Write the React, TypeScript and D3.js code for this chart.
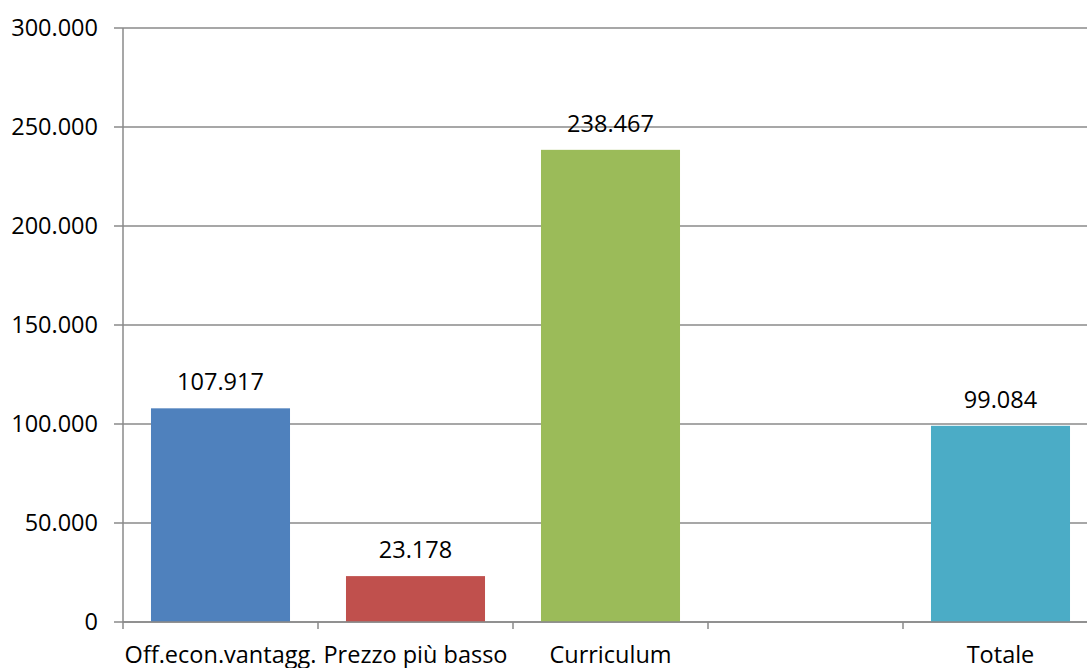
import React from "react";
import * as d3 from "d3";

const categories = ["Off.econ.vantagg.", "Prezzo più basso", "Curriculum", "", "Totale"];
const values: (number | null)[] = [107917, 23178, 238467, null, 99084];
const colors = ["#4F81BD", "#C0504D", "#9BBB59", "#FFFFFF", "#4BACC6"];
const yTicks = [0, 50000, 100000, 150000, 200000, 250000, 300000];

const W = 1087;
const H = 668;
const FONT = "'Open Sans', sans-serif";
const FS = 23.5;

const locale = d3.formatLocale({ decimal: ",", thousands: ".", grouping: [3], currency: ["", "€"] });
const fmt = locale.format(",d");

export default function App() {
  const left = 123;
  const right = 1098;
  const top = 28;
  const bottom = 622;
  const keys = categories.map((_, i) => String(i));
  const x = d3.scaleBand<string>().domain(keys).range([left, right]).paddingInner(0.287).paddingOuter(0.1435);
  const y = d3.scaleLinear().domain([0, 300000]).range([bottom, top]);
  const step = x.step();
  const gridColor = "#8A8A8A";

  return (
    <svg width={W} height={H} style={{ position: "absolute", left: 0, top: 0, background: "#fff" }}>
      {yTicks.map((t) => (
        <line key={"g" + t} x1={114} x2={W} y1={y(t)} y2={y(t)} stroke={gridColor} strokeWidth={1.5} />
      ))}
      {yTicks.map((t) => (
        <text key={"yl" + t} x={98} y={y(t)} dy="0.36em" textAnchor="end" fontFamily={FONT} fontSize={FS} fill="#000">
          {fmt(t)}
        </text>
      ))}
      {values.map((v, i) =>
        v == null ? null : (
          <rect key={"b" + i} x={x(keys[i])!} y={y(v)} width={x.bandwidth()} height={y(0) - y(v)} fill={colors[i]} />
        )
      )}
      <line x1={left} x2={left} y1={top} y2={bottom + 7} stroke={gridColor} strokeWidth={1.5} />
      <line x1={left} x2={W} y1={bottom} y2={bottom} stroke={gridColor} strokeWidth={1.5} />
      {keys.map((k, i) => (
        <line key={"xt" + i} x1={left + step * (i + 1)} x2={left + step * (i + 1)} y1={bottom} y2={bottom + 7} stroke={gridColor} strokeWidth={1.5} />
      ))}
      {values.map((v, i) =>
        v == null ? null : (
          <text key={"dl" + i} x={x(keys[i])! + x.bandwidth() / 2} y={y(v) - 18} textAnchor="middle" fontFamily={FONT} fontSize={FS} fill="#000">
            {fmt(v)}
          </text>
        )
      )}
      {categories.map((c, i) => (
        <text key={"xl" + i} x={x(keys[i])! + x.bandwidth() / 2} y={663} textAnchor="middle" fontFamily={FONT} fontSize={FS} fill="#000">
          {c}
        </text>
      ))}
    </svg>
  );
}
